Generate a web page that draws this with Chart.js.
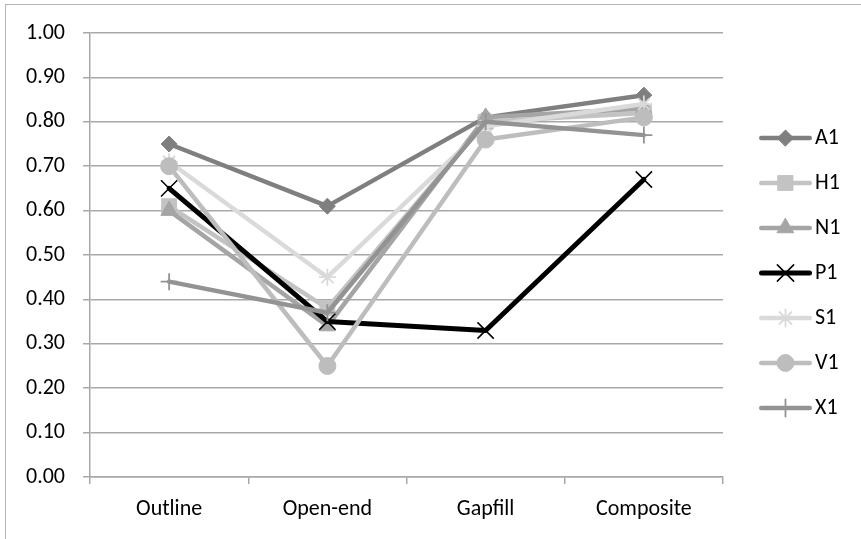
<!DOCTYPE html>
<html>
<head>
<meta charset="utf-8">
<script src="https://cdn.jsdelivr.net/npm/chart.js@4/dist/chart.umd.min.js"></script>
<style>
  html, body { margin: 0; padding: 0; background: #fff; }
  #wrap { position: relative; width: 861px; height: 539px; overflow: hidden; }
  #frame { position: absolute; left: 5px; top: 4px; width: 900px; height: 600px;
           border: 1px solid #b4b4b4; box-sizing: border-box; pointer-events: none; }
  canvas { position: absolute; left: 0; top: 0; }
</style>
</head>
<body>
<div id="wrap">
  <canvas id="chart" width="861" height="539"></canvas>
  <div id="frame"></div>
</div>
<script>
// Task categories along the x axis
const categories = ['Outline', 'Open-end', 'Gapfill', 'Composite'];

// Scores per series
const A1 = [0.75, 0.61, 0.81, 0.86];
const H1 = [0.61, 0.38, 0.80, 0.82];
const N1 = [0.60, 0.34, 0.81, 0.83];
const P1 = [0.65, 0.35, 0.33, 0.67];
const S1 = [0.71, 0.45, 0.79, 0.84];
const V1 = [0.70, 0.25, 0.76, 0.81];
const X1 = [0.44, 0.37, 0.80, 0.77];

const seriesNames = ['A1', 'H1', 'N1', 'P1', 'S1', 'V1', 'X1'];
const seriesValues = [A1, H1, N1, P1, S1, V1, X1];

// Value axis ticks
const yTicks = [0.0, 0.1, 0.2, 0.3, 0.4, 0.5, 0.6, 0.7, 0.8, 0.9, 1.0];

// Look of each series: colour, marker shape, marker radius, marker outline, line width
const seriesStyles = [
  { color: '#7f7f7f', marker: 'rectRot',  radius: 8,    markerLine: 1,   width: 4.5 },
  { color: '#c3c3c3', marker: 'rect',     radius: 10.5, markerLine: 1,   width: 4.5 },
  { color: '#a5a5a5', marker: 'triangle', radius: 9.5,  markerLine: 1,   width: 4.5 },
  { color: '#000000', marker: 'crossRot', radius: 11.5, markerLine: 1.5, width: 5 },
  { color: '#dadada', marker: 'star',     radius: 8.5,  markerLine: 1.8, width: 4.5 },
  { color: '#bdbdbd', marker: 'circle',   radius: 8.5,  markerLine: 1,   width: 4.5 },
  { color: '#939393', marker: 'cross',    radius: 8.5,  markerLine: 1.8, width: 4.5 }
];

const FONT_FAMILY = "Carlito, 'Open Sans', sans-serif";
const FONT_SIZE = 22;
const GRID = '#a8a8a8';

// Plot geometry
const PLOT_LEFT = 90;     // y axis position
const PLOT_RIGHT = 723;   // right end of the plot
const PLOT_TOP = 33;
const PLOT_BOTTOM = 477;

// Legend geometry
const ROW_STEP = 45;                      // distance between legend rows
const LEG_PAD = ROW_STEP - FONT_SIZE;     // Chart.js row padding
const LEG_LINE_START = 759;
const LEG_LINE_END = 812;
const LEG_TEXT_X = 815;
const FIRST_ROW_CENTER = 138;
const legendX = PLOT_RIGHT + LEG_PAD;
const LEG_BOX = LEG_TEXT_X - FONT_SIZE / 2 - legendX;  // room reserved for the line key
const ICON_W = 80, ICON_H = 28;

const datasets = seriesNames.map((name, i) => {
  const s = seriesStyles[i];
  return {
    label: name,
    data: seriesValues[i],
    borderColor: s.color,
    backgroundColor: s.color,
    borderWidth: s.width,
    borderJoinStyle: 'round',
    borderCapStyle: 'round',
    pointStyle: s.marker,
    pointRadius: s.radius,
    pointHoverRadius: s.radius,
    pointBorderWidth: s.markerLine,
    pointBackgroundColor: s.color,
    pointBorderColor: s.color,
    tension: 0,
    fill: false,
    clip: false,
    order: seriesNames.length - i   // later series sit on top
  };
});

// Legend key: a short line with the series marker in its middle
const iconLeft = legendX + LEG_BOX / 2 - ICON_W / 2;
function legendIcon(ds) {
  const cv = document.createElement('canvas');
  cv.width = ICON_W; cv.height = ICON_H;
  const ctx = cv.getContext('2d');
  const cy = ICON_H / 2;
  const x0 = LEG_LINE_START - iconLeft, x1 = LEG_LINE_END - iconLeft;
  ctx.strokeStyle = ds.borderColor;
  ctx.lineWidth = ds.borderWidth;
  ctx.lineCap = 'round';
  ctx.beginPath();
  ctx.moveTo(x0 + ds.borderWidth / 2, cy);
  ctx.lineTo(x1 - ds.borderWidth / 2, cy);
  ctx.stroke();
  ctx.fillStyle = ds.pointBackgroundColor;
  ctx.strokeStyle = ds.pointBorderColor;
  ctx.lineWidth = ds.pointBorderWidth;
  Chart.helpers.drawPoint(ctx, {
    pointStyle: ds.pointStyle, radius: ds.pointRadius, rotation: 0, borderWidth: ds.pointBorderWidth
  }, (x0 + x1) / 2, cy);
  return cv;
}
const legendIcons = datasets.map(legendIcon);

// Right padding so that the plot ends exactly at PLOT_RIGHT
const mctx = document.createElement('canvas').getContext('2d');
mctx.font = FONT_SIZE + 'px ' + FONT_FAMILY;
const maxText = Math.max(...seriesNames.map(n => mctx.measureText(n).width));
const legendWidth = LEG_PAD + LEG_BOX + FONT_SIZE / 2 + maxText + 10;
const padRight = 861 - PLOT_RIGHT - legendWidth;

// Moves the legend block so its first row sits at FIRST_ROW_CENTER
const legendRowPlacement = {
  id: 'legendRowPlacement',
  afterLayout(chart) {
    const lg = chart.legend;
    if (!lg) return;
    const colH = seriesNames.length * ROW_STEP;
    const cur = (lg.top + LEG_PAD + lg.bottom - colH) / 2;
    const want = FIRST_ROW_CENTER - FONT_SIZE / 2;
    lg.top += want - cur;
    lg.bottom += want - cur;
  }
};

new Chart(document.getElementById('chart'), {
  type: 'line',
  data: { labels: categories, datasets },
  plugins: [legendRowPlacement],
  options: {
    responsive: false,
    devicePixelRatio: 1,
    animation: false,
    events: [],
    layout: { padding: { top: PLOT_TOP, right: padRight, bottom: 0, left: 0 } },
    font: { family: FONT_FAMILY, size: FONT_SIZE },
    color: '#000',
    plugins: {
      tooltip: { enabled: false },
      legend: {
        position: 'right',
        align: 'center',
        labels: {
          usePointStyle: true,
          pointStyleWidth: LEG_BOX,
          padding: LEG_PAD,
          color: '#000',
          font: { family: FONT_FAMILY, size: FONT_SIZE },
          generateLabels: (chart) => chart.data.datasets.map((ds, i) => ({
            text: ds.label,
            pointStyle: legendIcons[i],
            fillStyle: ds.borderColor,
            strokeStyle: ds.borderColor,
            lineWidth: 0,
            hidden: false,
            datasetIndex: i,
            fontColor: '#000'
          }))
        }
      }
    },
    scales: {
      x: {
        type: 'category',
        offset: true,
        afterFit: (s) => { s.height = 539 - PLOT_BOTTOM; },
        grid: { offset: true, drawOnChartArea: false, drawTicks: true, tickLength: 7, color: GRID, lineWidth: 1.5 },
        border: { display: true, color: GRID, width: 1.5 },
        ticks: { color: '#000', padding: 12, maxRotation: 0, font: { family: FONT_FAMILY, size: FONT_SIZE } }
      },
      y: {
        min: 0, max: 1,
        afterFit: (s) => { s.width = PLOT_LEFT; },
        afterBuildTicks: (s) => { s.ticks = yTicks.map(v => ({ value: v })); },
        grid: { drawTicks: true, tickLength: 7, color: GRID, lineWidth: 1.5 },
        border: { display: true, color: GRID, width: 1.5 },
        ticks: {
          color: '#000', padding: 18,
          font: { family: FONT_FAMILY, size: FONT_SIZE },
          callback: (v) => Number(v).toFixed(2)
        }
      }
    }
  }
});
</script>
</body>
</html>
